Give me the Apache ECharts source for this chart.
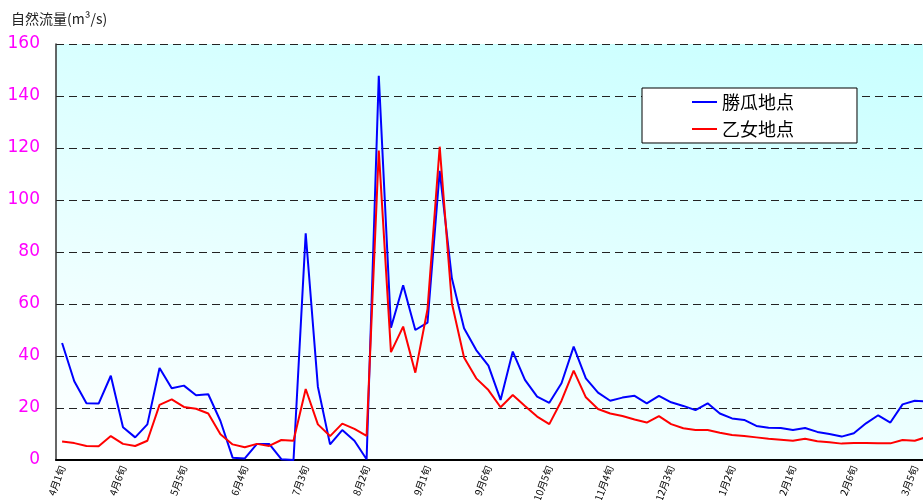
<!DOCTYPE html>
<html>
<head>
<meta charset="utf-8">
<script src="https://cdn.jsdelivr.net/npm/echarts@6/dist/echarts.min.js"></script>
<style>html,body{margin:0;padding:0;background:#fff;}#c{width:923px;height:500px;}</style>
</head>
<body>
<div id="c"></div>
<script>
const months = [4,5,6,7,8,9,10,11,12,1,2,3];
const periods = [1,2,3,4,5,6];
const categories = [];
months.forEach(m => periods.forEach(p => categories.push(m + '月' + p + '旬')));

const katsuri = [45,30.3,21.8,21.7,32.4,12.6,8.7,13.7,35.4,27.6,
  28.6,24.9,25.3,15,0.9,0.6,6.2,6.2,0.3,0,
  87.2,28.2,6,11.5,7.4,0.3,147.8,50.9,67.2,50,
  52.8,111.2,69.9,50.7,42.3,36.3,23.1,41.7,30.8,24.4,
  22,29.5,43.6,31.4,25.9,22.8,24,24.7,21.8,24.7,
  22.2,20.8,19.2,21.8,17.9,16,15.4,13.1,12.4,12.3,
  11.5,12.3,10.8,10,9,10.3,14.1,17.2,14.4,21.4,22.8,22.5];
const otome = [7.1,6.5,5.4,5.3,9.2,6.2,5.4,7.4,21.2,23.3,
  20.4,19.7,17.9,9.9,6,4.9,6.2,5.4,7.7,7.4,
  27.3,13.7,9.2,14,12,9.3,119,41.5,51.3,33.6,
  58,120.5,60.3,39.4,31.4,26.9,20.3,25,20.8,16.7,
  13.8,22.8,34.4,24.1,19.6,17.9,16.9,15.6,14.4,16.9,
  13.8,12.2,11.5,11.5,10.5,9.6,9.2,8.7,8.2,7.8,
  7.4,8.2,7.2,6.8,6.3,6.5,6.5,6.4,6.4,7.7,7.4,8.9];
const seriesNames = ['勝瓜地点','乙女地点'];
const yTitle = '自然流量(m³/s)';

const chart = echarts.init(document.getElementById('c'), null, {renderer:'canvas'});
chart.setOption({
  animation: false,
  backgroundColor: '#ffffff',
  textStyle: {fontFamily: '"Noto Sans CJK JP", "Liberation Sans", sans-serif'},
  title: {
    text: yTitle, left: 6, top: 7,
    textStyle: {fontSize: 14, fontWeight: 'normal', color: '#222'}
  },
  legend: {
    orient: 'vertical', left: 642, top: 88,
    backgroundColor: '#ffffff', borderColor: '#000', borderWidth: 1,
    padding: [5, 63, 5, 50], itemGap: 9,
    icon: 'rect', itemWidth: 25, itemHeight: 2,
    textStyle: {fontSize: 18, color: '#000'},
    data: seriesNames
  },
  grid: {
    left: 56, top: 44, width: 877, height: 416,
    outerBoundsMode: 'none', containLabel: false,
    show: true, borderWidth: 0,
    backgroundColor: {type: 'linear', global: true, x: 56, y: 460, x2: 170, y2: -109,
      colorStops: [{offset: 0, color: '#ffffff'}, {offset: 1, color: '#c8ffff'}]}
  },
  xAxis: {
    type: 'category', data: categories, boundaryGap: true,
    axisLine: {lineStyle: {color: '#000', width: 2}},
    axisTick: {inside: true, length: 4, lineStyle: {color: '#000'}},
    axisLabel: {interval: 4, rotate: 70, fontSize: 10, color: '#000', margin: 6}
  },
  yAxis: {
    type: 'value', min: 0, max: 160, interval: 20,
    axisLine: {show: true, lineStyle: {color: '#333', width: 1.5}},
    axisTick: {show: false},
    axisLabel: {fontSize: 17, color: '#ff00ff', margin: 16, fontFamily: '"DejaVu Sans", sans-serif'},
    splitLine: {lineStyle: {type: [8, 5], color: '#222', width: 1}}
  },
  series: [
    {name: seriesNames[0], type: 'line', data: katsuri, symbol: 'none',
     lineStyle: {color: '#0000ff', width: 2}, itemStyle: {color: '#0000ff'}},
    {name: seriesNames[1], type: 'line', data: otome, symbol: 'none',
     lineStyle: {color: '#ff0000', width: 2}, itemStyle: {color: '#ff0000'}}
  ]
});
</script>
</body>
</html>
